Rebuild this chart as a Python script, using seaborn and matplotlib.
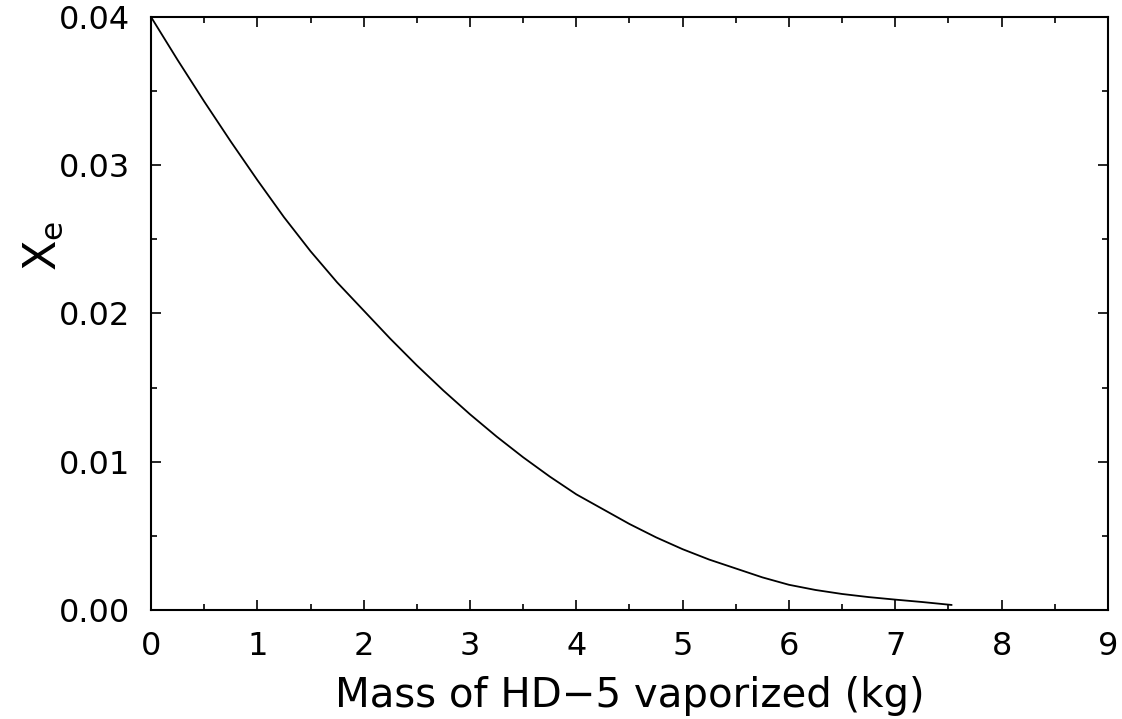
import matplotlib
matplotlib.use("Agg")
import matplotlib.pyplot as plt
import seaborn as sns
import pandas as pd
from matplotlib.ticker import MultipleLocator

mass_kg = [0.0, 0.25, 0.5, 0.75, 1.0, 1.25, 1.5, 1.75, 2.0, 2.25, 2.5, 2.75, 3.0,
           3.25, 3.5, 3.75, 4.0, 4.25, 4.5, 4.75, 5.0, 5.25, 5.5, 5.75, 6.0,
           6.25, 6.5, 6.75, 7.0, 7.25, 7.53]
x_e = [0.0400, 0.0371, 0.0343, 0.0316, 0.0290, 0.0265, 0.0242, 0.0221, 0.0202,
       0.0183, 0.0165, 0.0148, 0.0132, 0.0117, 0.0103, 0.0090, 0.0078, 0.0068,
       0.0058, 0.0049, 0.0041, 0.0034, 0.0028, 0.0022, 0.0017, 0.00135, 0.00108,
       0.00087, 0.0007, 0.00054, 0.00034]
x_ticks = [0, 1, 2, 3, 4, 5, 6, 7, 8, 9]
y_ticks = [0.00, 0.01, 0.02, 0.03, 0.04]
y_ticklabels = ["0.00", "0.01", "0.02", "0.03", "0.04"]

sns.set_theme(style="ticks")
plt.rcParams['font.family'] = ['DejaVu Sans']

df = pd.DataFrame({"mass": mass_kg, "xe": x_e})

fig = plt.figure(figsize=(11.22, 7.19), dpi=100)
ax = fig.add_axes([0.1346, 0.1516, 0.8529, 0.8248])
sns.lineplot(data=df, x="mass", y="xe", ax=ax, color="black", linewidth=1.3)

ax.set_xlim(0, 9)
ax.set_ylim(0, 0.04)
ax.set_xticks(x_ticks)
ax.set_yticks(y_ticks)
ax.set_yticklabels(y_ticklabels)
ax.xaxis.set_minor_locator(MultipleLocator(0.5))
ax.yaxis.set_minor_locator(MultipleLocator(0.005))
ax.tick_params(which="both", direction="in", top=True, right=True, width=1.2,
               colors="black", labelsize=23)
ax.tick_params(which="major", length=7, pad=15)
ax.tick_params(which="minor", length=4)
for s in ax.spines.values():
    s.set_linewidth(1.5)
    s.set_color("black")

ax.set_xlabel("Mass of HD\u22125 vaporized (kg)", fontsize=29, color="black")
ax.xaxis.set_label_coords(0.5, -0.112)
ax.set_ylabel(r"$\mathregular{X_e}$", fontsize=32, color="black")
ax.yaxis.set_label_coords(-0.09, 0.614)

fig.savefig("out.png", dpi=100)
